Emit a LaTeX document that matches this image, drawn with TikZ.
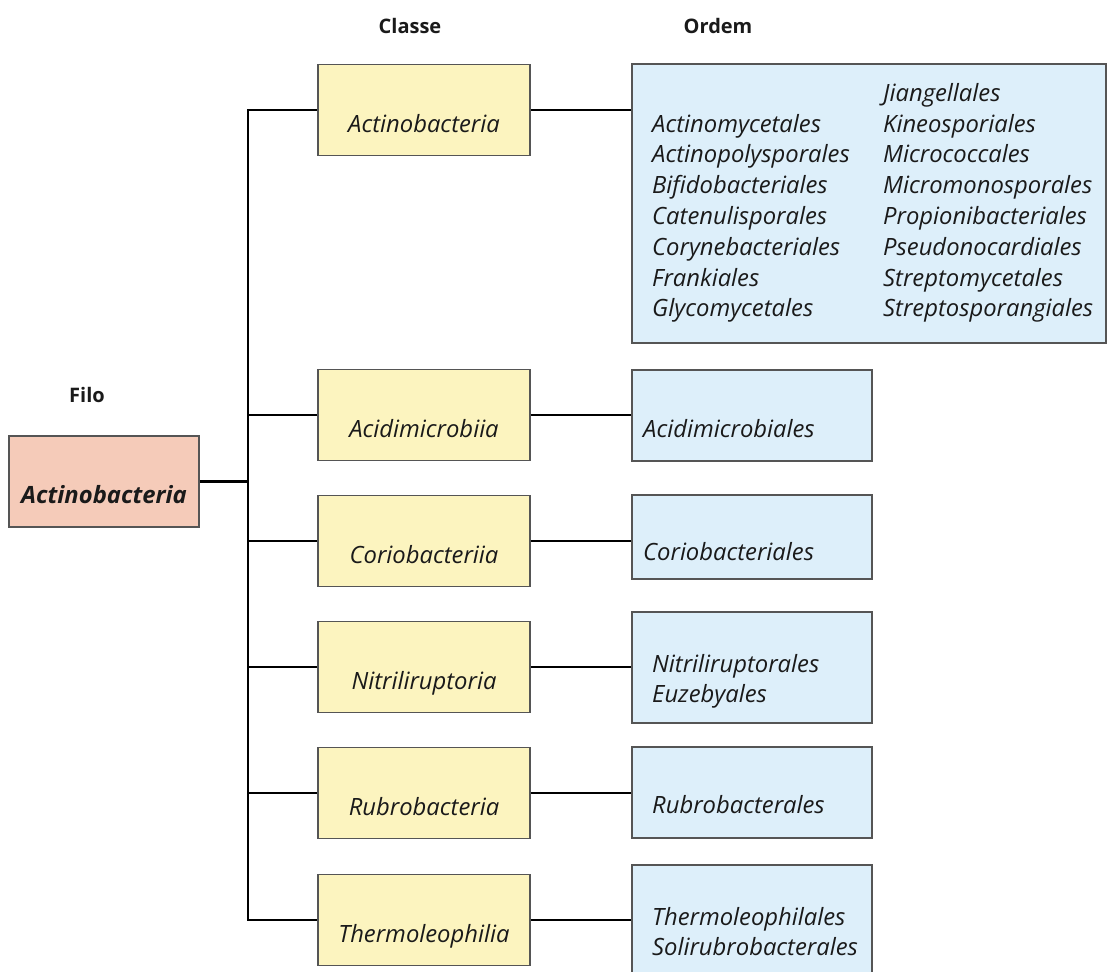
\documentclass[tikz,border=0pt]{standalone}
\usepackage{fontspec}
\setmainfont{Open Sans}
\usetikzlibrary{calc}
\definecolor{filofill}{HTML}{F5CBB9}
\definecolor{classfill}{HTML}{FCF4BF}
\definecolor{ordfill}{HTML}{DDEFFA}
\definecolor{edge}{HTML}{555555}
\definecolor{ink}{HTML}{1A1A1A}

\begin{document}
\begin{tikzpicture}[
  x=1pt, y=-1pt,
  hdr/.style={font=\fontsize{20}{24}\selectfont\bfseries, text=ink, anchor=base, inner sep=0pt},
  filobox/.style={draw=edge, fill=filofill, line width=1.6pt, minimum width=190, minimum height=91},
  classbox/.style={draw=edge, fill=classfill, line width=1.6pt, minimum width=212, minimum height=91},
  ordbox/.style={draw=edge, fill=ordfill, line width=1.6pt, minimum width=240},
  txt/.style={font=\fontsize{23.8}{28}\selectfont\itshape, text=ink, inner sep=0pt},
  ordtxt/.style={txt, anchor=base west},
  conn/.style={draw=black, line width=2.8pt}
]
\useasboundingbox (0,0) rectangle (1109,972);

% headers
\node[hdr] (filo-h) at (87,402) {Filo};
\node[hdr] (classe-h) at (410,33) {Classe};
\node[hdr] (ordem-h) at (718,33) {Ordem};

% phylum
\node[filobox] (filo) at (104,481.5) {};
\node[txt, font=\fontsize{23.8}{28}\selectfont\bfseries\itshape, anchor=base] (filo-t) at (104,503) {Actinobacteria};

% classes
\foreach \n/\y/\t in {c1/110/Actinobacteria, c2/415/Acidimicrobiia, c3/541/Coriobacteriia,
                      c4/667/Nitriliruptoria, c5/793/Rubrobacteria, c6/920/Thermoleophilia} {
  \node[classbox] (\n) at (424,\y) {};
  \node[txt, anchor=base] (\n-t) at (424,\y+22) {\t};
}

% orders
\node[ordbox, minimum width=474, minimum height=279] (o1) at (869,203.5) {};
\node[ordbox, minimum height=91] (o2) at (752,415.5) {};
\node[ordbox, minimum height=84] (o3) at (752,537) {};
\node[ordbox, minimum height=111] (o4) at (752,667.5) {};
\node[ordbox, minimum height=91] (o5) at (752,792.5) {};
\node[ordbox, minimum height=112] (o6) at (752,921) {};

\foreach \t [count=\i] in {Actinomycetales, Actinopolysporales, Bifidobacteriales,
    Catenulisporales, Corynebacteriales, Frankiales, Glycomycetales}
  \node[ordtxt] (oa-\i) at (652,{101.2+30.8*\i}) {\t};
\foreach \t [count=\i] in {Jiangellales, Kineosporiales, Micrococcales, Micromonosporales,
    Propionibacteriales, Pseudonocardiales, Streptomycetales, Streptosporangiales}
  \node[ordtxt] (ob-\i) at (883,{70.5+30.8*\i}) {\t};

\node[ordtxt] (o2-t) at (643,437) {Acidimicrobiales};
\node[ordtxt] (o3-t) at (643,560) {Coriobacteriales};
\node[ordtxt] (o4-t1) at (652,672) {Nitriliruptorales};
\node[ordtxt] (o4-t2) at (652,702) {Euzebyales};
\node[ordtxt] (o5-t) at (652,813) {Rubrobacterales};
\node[ordtxt] (o6-t1) at (652,925) {Thermoleophilales};
\node[ordtxt] (o6-t2) at (652,955) {Solirubrobacterales};

% connectors
\coordinate (spine) at (248,0);
\draw[conn] (filo.east) -- (filo.east -| spine);
\draw[conn] (c1.west) -- (c1.west -| spine) -- (c6.west -| spine) -- (c6.west);
\foreach \n in {c2,c3,c4,c5}
  \draw[conn] (\n.west) -- (\n.west -| spine);
\foreach \i in {1,...,6}
  \draw[conn] (c\i.east) -- (c\i.east -| o\i.west);
\end{tikzpicture}
\end{document}
